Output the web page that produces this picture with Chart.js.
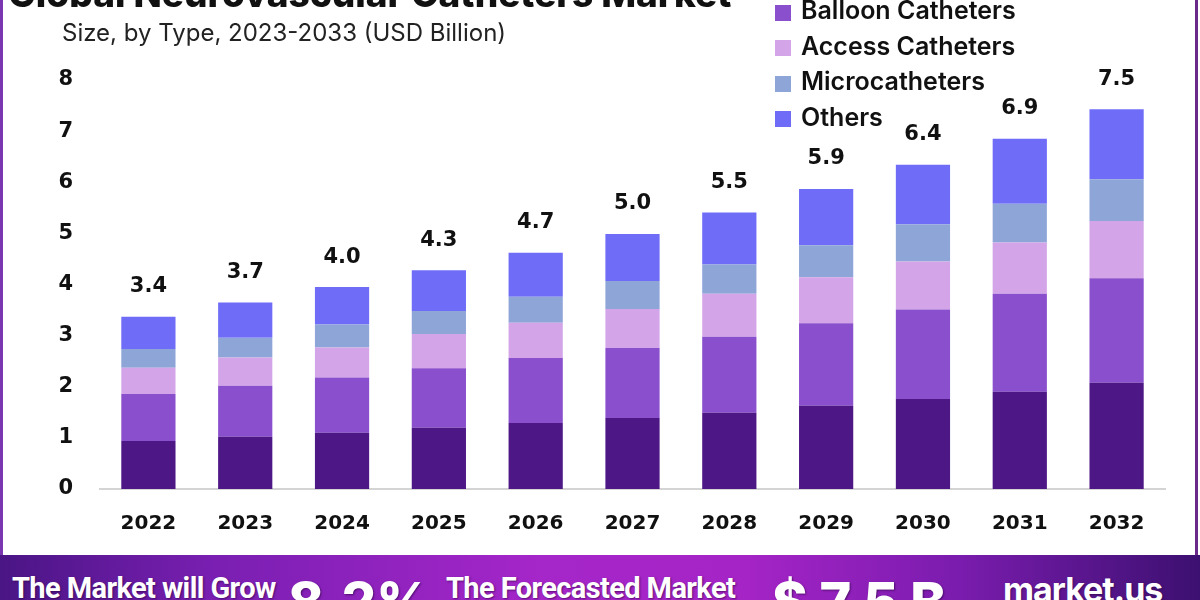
<!DOCTYPE html>
<html>
<head>
<meta charset="utf-8">
<script src="https://cdn.jsdelivr.net/npm/chart.js@4.4.1/dist/chart.umd.min.js"></script>
<style>
html, body { margin: 0; padding: 0; width: 1200px; height: 600px; overflow: hidden; background: #fff; }
#wrap { position: relative; width: 1200px; height: 600px; overflow: hidden; }
#chart { position: absolute; left: 0; top: 0; }
.title { position: absolute; left: 8px; top: -25px; font: 800 37px Inter, sans-serif; color: #111; white-space: nowrap; line-height: 37px; }
.subtitle { position: absolute; left: 62px; top: 19px; font: 400 24px Inter, sans-serif; color: #222; white-space: nowrap; line-height: 28px; }
#legend { position: absolute; left: 775px; top: -43px; }
#legend .item { height: 35.5px; display: flex; align-items: center; font: 600 25px Inter, sans-serif; color: #111; white-space: nowrap; }
#legend .box { width: 16px; height: 16px; margin-right: 10px; margin-top: 5px; }
.frame-l { position: absolute; left: 0; top: 0; width: 3px; height: 556px; background: #7a35b0; }
.frame-r { position: absolute; left: 1195px; top: 0; width: 3px; height: 556px; background: #6a2a8a; }
.banner { position: absolute; left: 0; top: 555px; width: 1200px; height: 45px;
  background: linear-gradient(90deg, #4a1585 0%, #7a1fb2 18%, #a526c9 45%, #a524c6 62%, #7a1cae 80%, #3c1070 100%); }
.banner div { position: absolute; color: #fff; white-space: nowrap; text-shadow: 1px 1px 2px rgba(40,0,60,0.6); }
.b1 { left: 12px; top: 19px; font: 700 29px Roboto, sans-serif; letter-spacing: -0.6px; line-height: 29px; }
.b2 { left: 288px; top: 20px; font: 800 54px Inter, sans-serif; line-height: 54px; }
.b3 { left: 446px; top: 19px; font: 700 29px Roboto, sans-serif; letter-spacing: -0.6px; line-height: 29px; }
.b4 { left: 772px; top: 20px; font: 800 54px Inter, sans-serif; line-height: 54px; }
.b5 { left: 1003px; top: 18px; font: 700 34px Inter, sans-serif; line-height: 34px; letter-spacing: -1px; }
</style>
</head>
<body>
<div id="wrap">
  <canvas id="chart" width="1200" height="600"></canvas>
  <div class="title">Global Neurovascular Catheters Market</div>
  <div class="subtitle">Size, by Type, 2023-2033 (USD Billion)</div>
  <div id="legend"></div>
  <div class="frame-l"></div>
  <div class="frame-r"></div>
  <div class="banner">
    <div class="b1">The Market will Grow</div>
    <div class="b2">8.2%</div>
    <div class="b3">The Forecasted Market</div>
    <div class="b4">$ 7.5 B</div>
    <div class="b5">market.us</div>
  </div>
</div>
<script>
const years = ['2022', '2023', '2024', '2025', '2026', '2027', '2028', '2029', '2030', '2031', '2032'];
const totals = ['3.4', '3.7', '4.0', '4.3', '4.7', '5.0', '5.5', '5.9', '6.4', '6.9', '7.5'];
const seriesNames = ['Embolization Catheters', 'Balloon Catheters', 'Access Catheters', 'Microcatheters', 'Others'];
const seriesColors = ['#4e1786', '#8a4fcc', '#d3a5e8', '#8ea5d8', '#6f6cf8'];

const embolization = [0.94, 1.02, 1.10, 1.20, 1.29, 1.39, 1.49, 1.63, 1.76, 1.90, 2.08];
const balloon = [0.92, 1.00, 1.08, 1.16, 1.27, 1.37, 1.49, 1.61, 1.75, 1.92, 2.04];
const access = [0.51, 0.55, 0.59, 0.67, 0.69, 0.76, 0.84, 0.90, 0.94, 1.00, 1.12];
const micro = [0.37, 0.39, 0.45, 0.45, 0.51, 0.55, 0.57, 0.63, 0.73, 0.76, 0.82];
const others = [0.63, 0.69, 0.73, 0.80, 0.86, 0.92, 1.02, 1.10, 1.16, 1.27, 1.37];

const seriesValues = [embolization, balloon, access, micro, others];

// legend
const legendEl = document.getElementById('legend');
seriesNames.forEach((name, i) => {
    const item = document.createElement('div');
    item.className = 'item';
    item.innerHTML = `<span class="box" style="background:${seriesColors[i]}"></span>${name}`;
    legendEl.appendChild(item);
});

// totals above each stack
const totalLabels = {
    id: 'totalLabels',
    afterDatasetsDraw(chart) {
        const ctx = chart.ctx;
        const meta = chart.getDatasetMeta(chart.data.datasets.length - 1);
        ctx.save();
        ctx.font = 'bold 21px "DejaVu Sans"';
        ctx.fillStyle = '#111';
        ctx.textAlign = 'center';
        ctx.textBaseline = 'middle';
        meta.data.forEach((bar, i) => {
            ctx.fillText(totals[i], bar.x, bar.y - 30);
        });
        ctx.restore();
    }
};

new Chart(document.getElementById('chart'), {
    type: 'bar',
    data: {
        labels: years,
        datasets: seriesNames.map((name, i) => ({
            label: name,
            data: seriesValues[i],
            backgroundColor: seriesColors[i],
            borderWidth: 0
        }))
    },
    options: {
        responsive: false,
        animation: false,
        layout: { padding: { top: 80, right: 35, left: 0, bottom: 0 } },
        datasets: { bar: { categoryPercentage: 1, barPercentage: 0.56 } },
        plugins: {
            legend: { display: false },
            tooltip: { enabled: false }
        },
        scales: {
            x: {
                stacked: true,
                grid: { display: false, drawTicks: false },
                border: { display: true, color: '#d4d4d4', width: 2 },
                ticks: {
                    color: '#111',
                    padding: 23,
                    font: { family: 'DejaVu Sans', weight: 'bold', size: 20 }
                },
                afterFit(scale) { scale.height = 111; }
            },
            y: {
                stacked: true,
                min: 0,
                max: 8,
                grid: { display: false, drawTicks: false },
                border: { display: false },
                ticks: {
                    stepSize: 1,
                    color: '#111',
                    padding: 27,
                    font: { family: 'DejaVu Sans', weight: 'bold', size: 21 }
                },
                afterFit(scale) { scale.width = 100; }
            }
        }
    },
    plugins: [totalLabels]
});
</script>
</body>
</html>
